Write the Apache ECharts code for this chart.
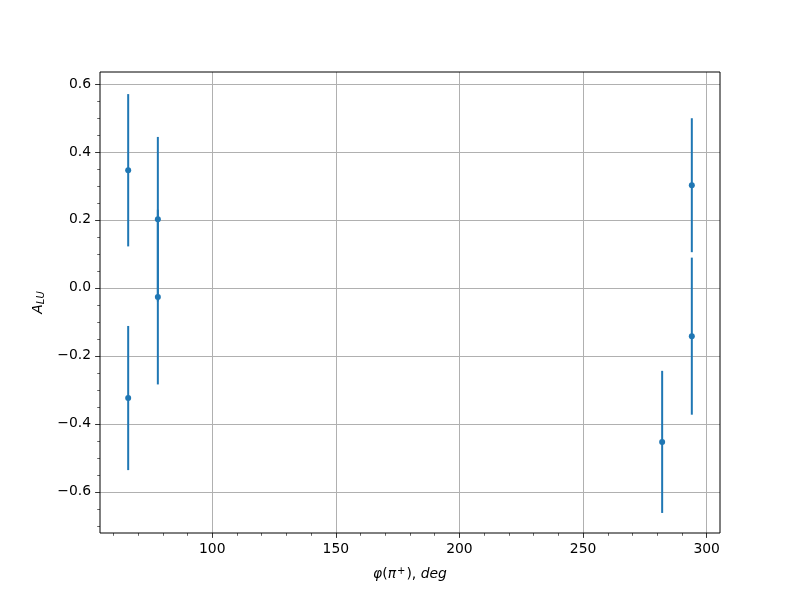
<!DOCTYPE html>
<html><head><meta charset="utf-8">
<script src="https://cdn.jsdelivr.net/npm/echarts@6/dist/echarts.min.js"></script>
<style>html,body{margin:0;padding:0;background:#fff}#c{width:800px;height:600px}</style>
</head><body><div id="c"></div>
<script>
// Data
const phi    = [66, 66, 78, 78, 282, 294, 294];
const alu    = [0.346, -0.324, 0.202, -0.027, -0.453, 0.302, -0.142];
const aluErr = [0.224, 0.212, 0.242, 0.257, 0.209, 0.197, 0.231];
// Tick labels
const xTicks = [100, 150, 200, 250, 300];
const yTicks = [-0.6, -0.4, -0.2, 0.0, 0.2, 0.4, 0.6];
const xRange = [54.6, 305.4];
const yRange = [-0.721, 0.635];

const xMinor = [];
for (let v = 60; v <= 300; v += 10) if (v % 50 !== 0) xMinor.push(v);
const yMinor = [];
for (let k = -14; k <= 12; k++) if (k % 4 !== 0) yMinor.push(k * 5 / 100);

const FONT = 'DejaVu Sans';
const FS = 13.9;
const C = '#1f77b4';
const minus = s => s.replace('-', '\u2212');

const chart = echarts.init(document.getElementById('c'));
chart.setOption({
  animation: false,
  backgroundColor: '#fff',
  textStyle: { fontFamily: FONT },
  grid: { left: 100, right: 80, top: 72, bottom: 67, show: true, borderColor: '#000', borderWidth: 1, backgroundColor: 'transparent', z: 5 },
  xAxis: [{
    type: 'value', min: xRange[0], max: xRange[1], position: 'bottom',
    axisLine: { show: false, onZero: false },
    axisTick: { show: true, customValues: xTicks, length: 4.9, lineStyle: { color: '#000', width: 0.8 } },
    axisLabel: { customValues: xTicks, color: '#000', fontSize: FS, fontFamily: FONT, margin: 9, formatter: v => minus(String(v)) },
    splitLine: { show: true, lineStyle: { color: '#b0b0b0', width: 1 } },
    name: '{i|φ}{n|(}{i|π}{s|+}{n|),}{i| deg}',
    nameLocation: 'middle', nameGap: 33,
    nameTextStyle: { color: '#000', rich: {
      i: { fontFamily: FONT, fontSize: FS, fontStyle: 'italic', color: '#000' },
      n: { fontFamily: FONT, fontSize: FS, color: '#000' },
      s: { fontFamily: FONT, fontSize: 10, color: '#000', padding: [0, 1, 7, 1] }
    } }
  }, {
    type: 'value', min: xRange[0], max: xRange[1], position: 'bottom',
    axisLine: { show: false, onZero: false },
    axisTick: { show: true, customValues: xMinor, length: 2.8, lineStyle: { color: '#000', width: 0.6 } },
    axisLabel: { show: false },
    splitLine: { show: false }
  }],
  yAxis: [{
    type: 'value', min: yRange[0], max: yRange[1], position: 'left',
    axisLine: { show: false, onZero: false },
    axisTick: { show: true, customValues: yTicks, length: 4.9, lineStyle: { color: '#000', width: 0.8 } },
    axisLabel: { customValues: yTicks, color: '#000', fontSize: FS, fontFamily: FONT, margin: 9, formatter: v => minus(Number(v).toFixed(1)) },
    splitLine: { show: true, lineStyle: { color: '#b0b0b0', width: 1 } },
    name: '{i|A}{s|LU}',
    nameLocation: 'middle', nameGap: 46, nameRotate: 90,
    nameTextStyle: { color: '#000', rich: {
      i: { fontFamily: FONT, fontSize: FS, fontStyle: 'italic', color: '#000' },
      s: { fontFamily: FONT, fontSize: 10, fontStyle: 'italic', color: '#000', padding: [6, 0, 0, 0] }
    } }
  }, {
    type: 'value', min: yRange[0], max: yRange[1], position: 'left',
    axisLine: { show: false, onZero: false },
    axisTick: { show: true, customValues: yMinor, length: 2.8, lineStyle: { color: '#000', width: 0.6 } },
    axisLabel: { show: false },
    splitLine: { show: false }
  }],
  series: [{
    type: 'custom', xAxisIndex: 0, yAxisIndex: 0,
    data: phi.map((x, i) => [x, alu[i] - aluErr[i], alu[i] + aluErr[i]]),
    encode: { x: 0, y: [1, 2] },
    renderItem: (params, api) => {
      const a = api.coord([api.value(0), api.value(1)]);
      const b = api.coord([api.value(0), api.value(2)]);
      return { type: 'line', shape: { x1: a[0], y1: a[1], x2: b[0], y2: b[1] }, style: { stroke: C, lineWidth: 2 } };
    },
    z: 2
  }, {
    type: 'scatter', xAxisIndex: 0, yAxisIndex: 0,
    data: phi.map((x, i) => [x, alu[i]]),
    symbol: 'circle', symbolSize: 6,
    itemStyle: { color: C, opacity: 1 },
    z: 3
  }]
});
</script>
</body></html>
